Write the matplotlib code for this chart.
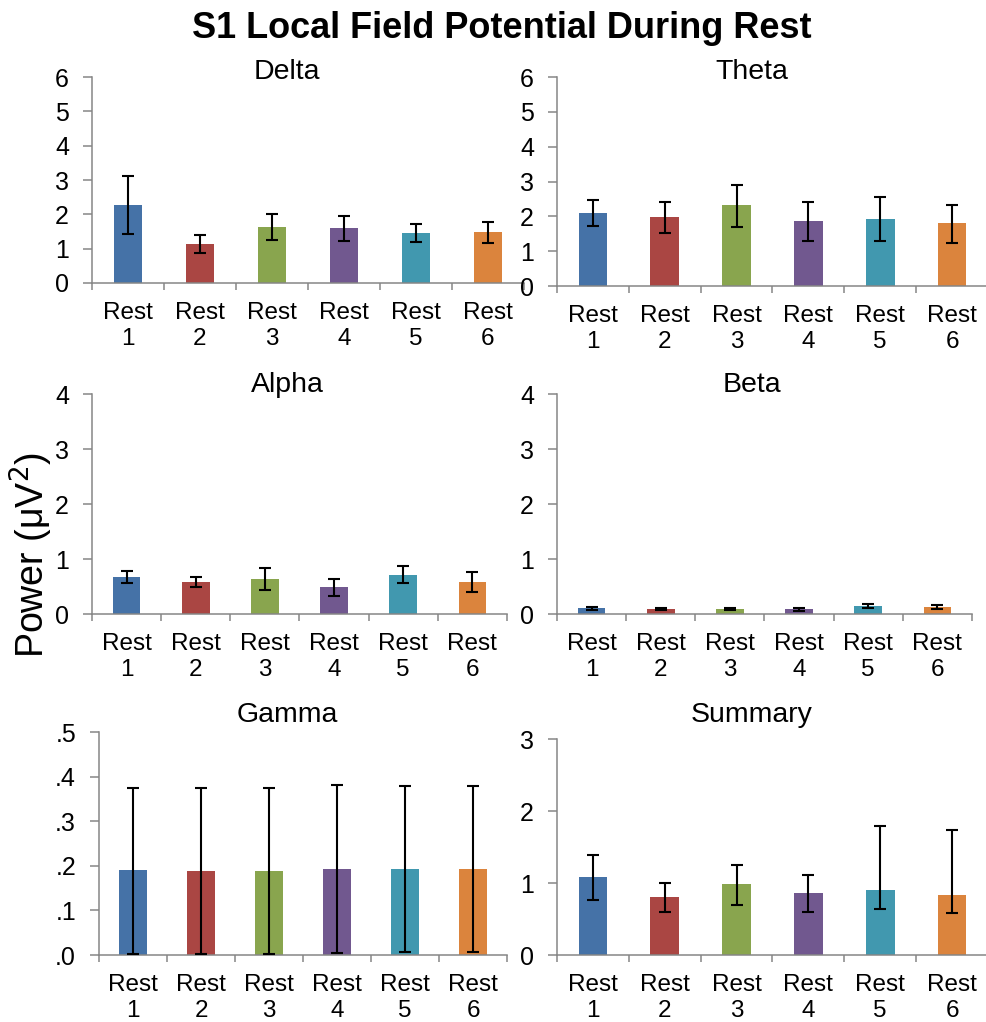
import numpy as np
import matplotlib
matplotlib.use("Agg")
from matplotlib import pyplot as plt
from matplotlib.ticker import FixedLocator, FuncFormatter

plt.rcParams['font.family'] = ['Liberation Sans', 'DejaVu Sans']

# categories and colours (Excel-style palette)
labels = ["Rest\n1", "Rest\n2", "Rest\n3", "Rest\n4", "Rest\n5", "Rest\n6"]
colors = ["#4572A7", "#AA4643", "#89A54E", "#71588F", "#4198AF", "#DB843D"]

# mean, upper error end, lower error end for each band
delta_mean = [2.26, 1.13, 1.62, 1.59, 1.45, 1.48]
delta_hi = [3.12, 1.41, 2.00, 1.96, 1.72, 1.79]
delta_lo = [1.44, 0.87, 1.25, 1.23, 1.20, 1.16]

theta_mean = [2.11, 1.97, 2.32, 1.86, 1.91, 1.80]
theta_hi = [2.47, 2.40, 2.89, 2.40, 2.55, 2.33]
theta_lo = [1.71, 1.51, 1.70, 1.29, 1.28, 1.24]

alpha_mean = [0.67, 0.58, 0.64, 0.49, 0.71, 0.58]
alpha_hi = [0.78, 0.68, 0.84, 0.64, 0.88, 0.76]
alpha_lo = [0.56, 0.49, 0.44, 0.33, 0.56, 0.40]

beta_mean = [0.11, 0.09, 0.09, 0.09, 0.145, 0.127]
beta_hi = [0.13, 0.115, 0.115, 0.115, 0.19, 0.16]
beta_lo = [0.08, 0.067, 0.067, 0.06, 0.11, 0.09]

gamma_mean = [0.190, 0.188, 0.188, 0.193, 0.193, 0.193]
gamma_hi = [0.375, 0.374, 0.375, 0.382, 0.379, 0.379]
gamma_lo = [0.003, 0.003, 0.003, 0.004, 0.0075, 0.007]

summary_mean = [1.08, 0.80, 0.98, 0.86, 0.90, 0.84]
summary_hi = [1.39, 1.00, 1.25, 1.11, 1.79, 1.74]
summary_lo = [0.765, 0.60, 0.70, 0.60, 0.64, 0.59]

W, H = 987, 1022
fig = plt.figure(figsize=(W / 100, H / 100), dpi=100)

def px_axes(x0, x1, y_bottom, y_top):
    # pixel box (top-left origin) -> figure fraction
    return fig.add_axes([x0 / W, 1 - y_bottom / H, (x1 - x0) / W, (y_bottom - y_top) / H])

# name, data, y max, axes box in px, title position in px
panels = [
    ("Delta", delta_mean, delta_hi, delta_lo, 6, (92, 524, 283, 77), (287, 72)),
    ("Theta", theta_mean, theta_hi, theta_lo, 6, (557, 988, 286, 77), (752, 72)),
    ("Alpha", alpha_mean, alpha_hi, alpha_lo, 4, (92, 507, 614, 394), (287, 385)),
    ("Beta", beta_mean, beta_hi, beta_lo, 4, (557, 972, 614, 394), (752, 385)),
    ("Gamma", gamma_mean, gamma_hi, gamma_lo, 0.5, (99, 507, 955, 732), (287, 715)),
    ("Summary", summary_mean, summary_hi, summary_lo, 3, (557, 988, 955, 739), (752, 715)),
]

axis_grey = "#868686"
for name, mean, hi, lo, ymax, box, tpos in panels:
    ax = px_axes(*box)
    x = np.arange(len(labels))
    mean = np.array(mean)
    err = [mean - np.array(lo), np.array(hi) - mean]
    ax.bar(x, mean, 0.4, color=colors, zorder=2)
    ax.errorbar(x, mean, yerr=err, fmt="none", ecolor="black", elinewidth=1.5,
                capsize=4, capthick=1.5, zorder=3)
    ax.set_xlim(-0.5, 5.5)
    ax.set_ylim(0, ymax)
    if ymax == 0.5:
        ax.set_yticks(np.arange(0, 0.51, 0.1))
        ax.yaxis.set_major_formatter(FuncFormatter(lambda v, p: f"{v:.1f}".lstrip("0")))
    else:
        ax.set_yticks(np.arange(0, ymax + 0.01, 1))
        ax.yaxis.set_major_formatter(FuncFormatter(lambda v, p: f"{v:.0f}"))
    ax.set_xticks(x)
    ax.set_xticklabels(labels, fontsize=17.5, linespacing=1.2)
    ax.xaxis.set_minor_locator(FixedLocator(np.arange(-0.5, 6, 1)))
    ax.tick_params(axis="x", which="major", length=0, pad=14)
    ax.tick_params(axis="x", which="minor", length=5, width=1.1, color=axis_grey)
    ax.tick_params(axis="y", length=6.5, width=1.1, color=axis_grey, labelsize=18, pad=10)
    for s in ["top", "right"]:
        ax.spines[s].set_visible(False)
    for s in ["left", "bottom"]:
        ax.spines[s].set_color(axis_grey)
        ax.spines[s].set_linewidth(1.1)
    fig.text(tpos[0] / W, 1 - tpos[1] / H, name, ha="center", va="center", fontsize=20.5)

fig.text(502 / W, 1 - 28 / H, "S1 Local Field Potential During Rest", ha="center",
         va="center", fontsize=26, fontweight="bold")
fig.text(31 / W, 1 - 555 / H, "Power (\u03bcV$^2$)", ha="center", va="center",
         rotation=90, fontsize=27)

fig.savefig("out.png", dpi=100)
